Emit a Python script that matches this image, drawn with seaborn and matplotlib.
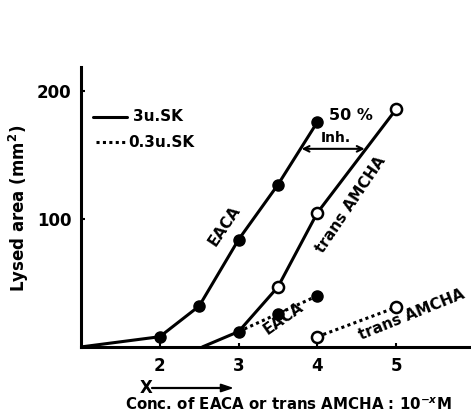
import numpy as np
import pandas as pd
import seaborn as sns
import matplotlib.pyplot as plt

# 3 u. SK (solid lines)
eaca_x = [1, 2, 2.5, 3, 3.5, 4]
eaca_y = [0, 8, 32, 84, 127, 176]
amcha_x = [2.54, 3, 3.5, 4, 5]
amcha_y = [0, 12, 47, 105, 186]

# 0.3 u. SK (dotted lines)
eaca_low_x = [3, 3.5, 4]
eaca_low_y = [12, 26, 40]
amcha_low_x = [4, 5]
amcha_low_y = [8, 31]

sns.set_style("ticks")
plt.rcParams['font.family'] = ['DejaVu Sans']
plt.rcParams['font.weight'] = 'bold'
for k in ['text.color', 'axes.labelcolor', 'xtick.color', 'ytick.color', 'axes.edgecolor']:
    plt.rcParams[k] = 'black'

fig = plt.figure(figsize=(4.71, 4.19), dpi=100)
ax = fig.add_axes([0.172, 0.172, 0.828, 0.668])

lw = 2.2
ms = 8
dots = (0, (1.0, 1.1))
# solid EACA, first point (origin) without marker
sns.lineplot(x=eaca_x, y=eaca_y, ax=ax, color='black', lw=lw)
ax.plot(eaca_x[1:], eaca_y[1:], 'o', color='black', ms=ms)
sns.lineplot(x=amcha_x, y=amcha_y, ax=ax, color='black', lw=lw)
ax.plot(amcha_x[2:], amcha_y[2:], 'o', mfc='white', mec='black', mew=1.8, ms=ms)
ax.plot(amcha_x[1], amcha_y[1], 'o', color='black', ms=ms)

sns.lineplot(x=eaca_low_x, y=eaca_low_y, ax=ax, color='black', lw=lw, linestyle=dots)
ax.plot(eaca_low_x[1:], eaca_low_y[1:], 'o', color='black', ms=ms)
sns.lineplot(x=amcha_low_x, y=amcha_low_y, ax=ax, color='black', lw=lw, linestyle=dots)
ax.plot(amcha_low_x, amcha_low_y, 'o', mfc='white', mec='black', mew=1.8, ms=ms)

ax.set_xlim(1, 5.95)
ax.set_ylim(0, 219)
ax.set_xticks([2, 3, 4, 5])
ax.set_yticks([100, 200])
ax.tick_params(direction='in', length=3, width=1.5, labelsize=12, pad=7)
for lab in ax.get_xticklabels() + ax.get_yticklabels():
    lab.set_fontweight('bold')
sns.despine(ax=ax)
for s in ['left', 'bottom']:
    ax.spines[s].set_linewidth(2.2)

fig.text(0.04, 0.502, 'Lysed area (mm$^2$)', rotation=90, fontsize=12,
         fontweight='bold', ha='center', va='center')

# legend
ax.plot([1.15, 1.59], [180, 180], color='black', lw=lw)
ax.text(1.66, 180, '3u.SK', fontsize=11, va='center', fontweight='bold')
ax.plot([1.19, 1.56], [160, 160], color='black', lw=lw, linestyle=dots)
ax.text(1.6, 160, '0.3u.SK', fontsize=11, va='center', fontweight='bold')

# curve labels
ax.text(2.82, 95, 'EACA', rotation=56, fontsize=11, fontweight='bold', ha='center', va='center')
ax.text(4.43, 111, 'trans AMCHA', rotation=56, fontsize=11, fontweight='bold', ha='center', va='center')
ax.text(3.57, 22, 'EACA', rotation=35, fontsize=11, fontweight='bold', ha='center', va='center')
ax.text(5.2, 25, 'trans AMCHA', rotation=22, fontsize=11, fontweight='bold', ha='center', va='center')

ax.text(4.15, 181, '50 %', fontsize=11.5, fontweight='bold', va='center')
ax.text(4.23, 158, 'Inh.', fontsize=10, fontweight='bold', ha='center', va='bottom')
ax.annotate('', xy=(3.8, 155), xytext=(4.6, 155),
            arrowprops=dict(arrowstyle='<->', color='black', lw=1.5,
                            shrinkA=0, shrinkB=0))

# x label with arrow
fig.text(0.297, 0.074, 'X', fontsize=12, fontweight='bold', va='center')
fig.add_artist(plt.Line2D([0.322, 0.472], [0.074, 0.074], color='black', lw=1.6))
fig.add_artist(plt.Polygon([[0.468, 0.083], [0.468, 0.065], [0.492, 0.074]], closed=True, color='black'))
fig.text(0.612, 0.033, 'Conc. of EACA or trans AMCHA : 10$^{-x}$M', fontsize=10.8,
         fontweight='bold', ha='center', va='center')

fig.savefig('out.png', dpi=100)
